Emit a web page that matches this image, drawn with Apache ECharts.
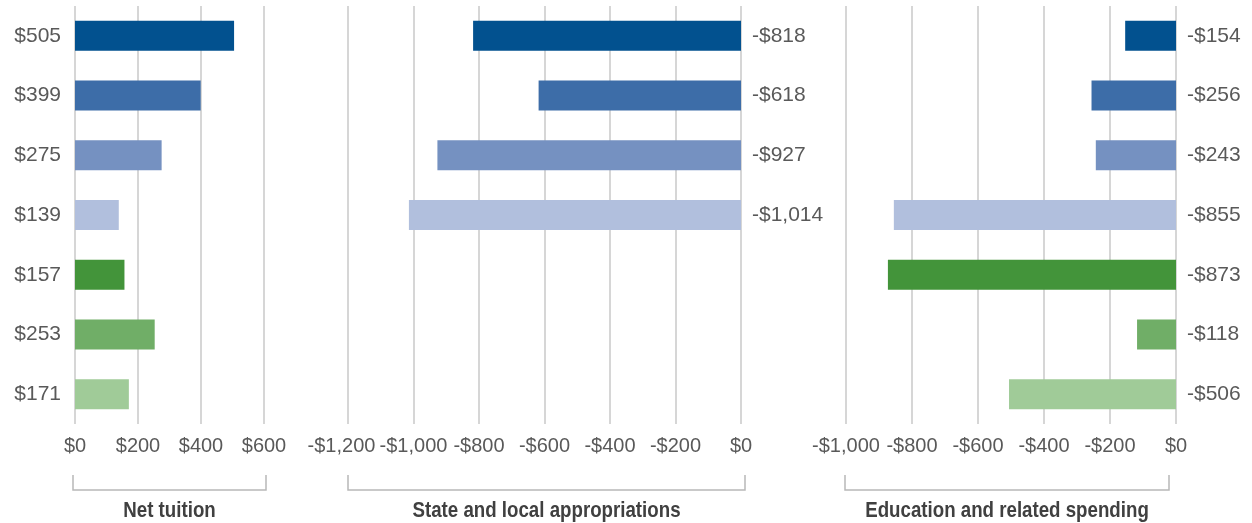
<!DOCTYPE html>
<html>
<head>
<meta charset="utf-8">
<script src="https://cdn.jsdelivr.net/npm/echarts@6/dist/echarts.min.js"></script>
<style>
  html, body { margin: 0; padding: 0; background: #fff; }
  #chart { width: 1252px; height: 523px; }
</style>
</head>
<body>
<div id="chart"></div>
<script>
//  Data

var rows = ['1', '2', '3', '4', '5', '6', '7'];
var netTuition = [505, 399, 275, 139, 157, 253, 171];
var appropriations = [-818, -618, -927, -1014, null, null, null];
var spending = [-154, -256, -243, -855, -873, -118, -506];
var panelTitles = ['Net tuition', 'State and local appropriations', 'Education and related spending'];

var barColors = ['#02518F', '#3D6DA8', '#7591C1', '#B1BFDD', '#43943A', '#70AE67', '#A0CB98'];

var textColor = '#595959';
var font = 'Liberation Sans, Arial, sans-serif';

function money(v) {
  var s = '$' + Math.abs(v).toLocaleString('en-US');
  return v < 0 ? '-' + s : s;
}

function items(values) {
  return values.map(function(v, i) {
    return {value: v, itemStyle: {color: barColors[i]}};
  });
}

//  Layout of the three panels

var panels = [
  {left: 75, width: 189, min: 0, max: 600},
  {left: 348, width: 393, min: -1200, max: 0},
  {left: 846, width: 330, min: -1000, max: 0}
];
var gridTop = 6, gridHeight = 418;

var grids = [], xAxes = [], yAxes = [];
panels.forEach(function(p, i) {
  grids.push({left: p.left, width: p.width, top: gridTop, height: gridHeight});
  xAxes.push({
    type: 'value', gridIndex: i, min: p.min, max: p.max, interval: 200,
    axisLine: {show: false}, axisTick: {show: false},
    splitLine: {lineStyle: {color: '#c8c8c8', width: 1.5}},
    axisLabel: {
      color: textColor, fontSize: 20, fontFamily: font, margin: 12,
      hideOverlap: false, showMinLabel: true, showMaxLabel: true,
      formatter: function(v) {
        // the first label of the middle panel is nudged left, as in the original
        if (i === 1 && v === p.min) return '{s|' + money(v) + '}';
        return money(v);
      },
      rich: {s: {color: textColor, fontSize: 20, fontFamily: font, padding: [0, 13, 0, 0]}}
    }
  });
  yAxes.push({
    type: 'category', gridIndex: i, inverse: true,
    data: i === 0 ? netTuition.map(function(v) { return money(v); }) : rows,
    axisLine: {show: false}, axisTick: {show: false},
    axisLabel: {show: i === 0, color: textColor, fontSize: 21, fontFamily: font, margin: 14,
      padding: [4, 0, 0, 0]}
  });
});

function barSeries(idx, values, showLabel) {
  return {
    type: 'bar', xAxisIndex: idx, yAxisIndex: idx,
    barWidth: 30,
    data: items(values),
    label: {
      show: showLabel, position: 'right', distance: 11,
      color: textColor, fontSize: 21, fontFamily: font,
      formatter: function(p) { return money(p.value); }
    },
    silent: true
  };
}

//  Brackets and panel titles under the axes

var brackets = [[73, 266], [348, 745], [845, 1169]];
var graphics = [];
brackets.forEach(function(b, i) {
  graphics.push({
    type: 'polyline',
    shape: {points: [[b[0], 475], [b[0], 490], [b[1], 490], [b[1], 475]]},
    style: {stroke: '#b8b8b8', lineWidth: 1.5, fill: null}
  });
  graphics.push({
    type: 'text', x: (b[0] + b[1]) / 2, y: 511, scaleX: 0.85,
    style: {
      text: panelTitles[i], fill: '#404040',
      font: 'bold 22px "Liberation Sans", Arial, sans-serif',
      align: 'center', verticalAlign: 'middle'
    }
  });
});

var myChart = echarts.init(document.getElementById('chart'), null, {renderer: 'canvas'});
myChart.setOption({
  animation: false,
  grid: grids,
  xAxis: xAxes,
  yAxis: yAxes,
  series: [
    barSeries(0, netTuition, false),
    barSeries(1, appropriations, true),
    barSeries(2, spending, true)
  ],
  graphic: graphics
});
</script>
</body>
</html>
